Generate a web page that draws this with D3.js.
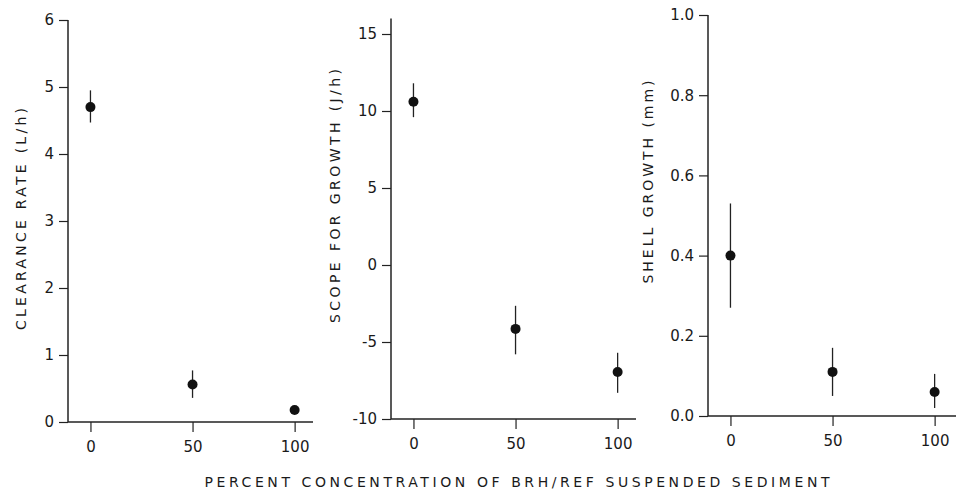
<!DOCTYPE html>
<html>
<head>
<meta charset="utf-8">
<script src="https://cdn.jsdelivr.net/npm/d3@7"></script>
<style>
  body { margin: 0; background: #fff; }
  text { font-family: 'DejaVu Sans', sans-serif; fill: #1a1a1a; }
</style>
</head>
<body>
<svg></svg>
<script>
// data

const concentrations = [0, 50, 100];

const clearanceRate = [4.70, 0.56, 0.18];
const clearanceLow = [4.47, 0.36, 0.16];
const clearanceHigh = [4.95, 0.77, 0.20];

const scopeForGrowth = [10.6, -4.15, -6.95];
const scopeLow = [9.6, -5.8, -8.3];
const scopeHigh = [11.8, -2.65, -5.7];

const shellGrowth = [0.40, 0.11, 0.06];
const shellLow = [0.27, 0.05, 0.02];
const shellHigh = [0.53, 0.17, 0.105];

const xTicks = [0, 50, 100];
const clearanceTicks = [0, 1, 2, 3, 4, 5, 6];
const scopeTicks = [-10, -5, 0, 5, 10, 15];
const shellTicks = [0, 0.2, 0.4, 0.6, 0.8, 1.0];

const xTitle = 'PERCENT CONCENTRATION OF BRH/REF SUSPENDED SEDIMENT';

// root svg

const width = 958, height = 496;

const svg = d3.select('svg')
  .attr('width', width)
  .attr('height', height)
  .style('background', '#fff');

// panels (layout in pixels)

const panels = [
  {
    title: 'CLEARANCE RATE (L/h)', titleX: 21, titleY: 219, titleLen: 222,
    values: clearanceRate, low: clearanceLow, high: clearanceHigh,
    yDomain: [0, 6], yTicks: clearanceTicks, yFormat: d => d,
    left: 68, right: 313, top: 20, bottom: 422
  },
  {
    title: 'SCOPE FOR GROWTH (J/h)', titleX: 335, titleY: 196, titleLen: 254,
    values: scopeForGrowth, low: scopeLow, high: scopeHigh,
    yDomain: [-10, 16], yTicks: scopeTicks, yFormat: d => d < 0 ? '-' + Math.abs(d) : d,
    left: 391, right: 636, top: 18.6, bottom: 419
  },
  {
    title: 'SHELL GROWTH (mm)', titleX: 648, titleY: 182, titleLen: 203,
    values: shellGrowth, low: shellLow, high: shellHigh,
    yDomain: [0, 1], yTicks: shellTicks, yFormat: d3.format('.1f'),
    left: 708, right: 956, top: 15, bottom: 416
  }
];

panels.forEach(p => {
  const g = svg.append('g');

  const xScale = d3.scaleLinear()
    .domain([-11, 109])
    .range([p.left, p.left + 245]);

  const yScale = d3.scaleLinear()
    .domain(p.yDomain)
    .range([p.bottom, p.top]);

  // y axis
  const yAxis = d3.axisLeft(yScale)
    .tickValues(p.yTicks)
    .tickFormat(p.yFormat)
    .tickSizeInner(9)
    .tickSizeOuter(0)
    .tickPadding(5);

  const yAxisG = g.append('g')
    .attr('transform', `translate(${p.left},0)`)
    .call(yAxis);

  yAxisG.select('.domain').remove();

  yAxisG.selectAll('.tick line')
    .attr('stroke', '#222')
    .attr('stroke-width', 1.2);

  yAxisG.selectAll('.tick text')
    .style('font-size', '15px')
    .attr('fill', '#1a1a1a');

  g.append('line')
    .attr('x1', p.left).attr('x2', p.left)
    .attr('y1', p.top).attr('y2', p.bottom)
    .attr('stroke', '#222')
    .attr('stroke-width', 1.5);

  // x axis
  const xAxis = d3.axisBottom(xScale)
    .tickValues(xTicks)
    .tickSizeInner(10)
    .tickSizeOuter(0)
    .tickPadding(9);

  const xAxisG = g.append('g')
    .attr('transform', `translate(0,${p.bottom})`)
    .call(xAxis);

  xAxisG.select('.domain').remove();

  xAxisG.selectAll('.tick line')
    .attr('stroke', '#222')
    .attr('stroke-width', 1.2);

  xAxisG.selectAll('.tick text')
    .style('font-size', '15px')
    .attr('fill', '#1a1a1a');

  g.append('line')
    .attr('x1', p.left).attr('x2', p.right)
    .attr('y1', p.bottom).attr('y2', p.bottom)
    .attr('stroke', '#222')
    .attr('stroke-width', 1.5);

  // y title
  g.append('text')
    .attr('transform', `translate(${p.titleX},${p.titleY}) rotate(-90)`)
    .attr('text-anchor', 'middle')
    .attr('dy', '0.35em')
    .attr('textLength', p.titleLen)
    .attr('lengthAdjust', 'spacing')
    .style('font-size', '14px')
    .text(p.title);

  // error bars
  g.selectAll('line.err')
    .data(concentrations)
    .enter()
    .append('line')
      .attr('class', 'err')
      .attr('x1', d => xScale(d))
      .attr('x2', d => xScale(d))
      .attr('y1', (d, i) => yScale(p.low[i]))
      .attr('y2', (d, i) => yScale(p.high[i]))
      .attr('stroke', '#222')
      .attr('stroke-width', 1.3);

  // points
  g.selectAll('circle')
    .data(concentrations)
    .enter()
    .append('circle')
      .attr('cx', d => xScale(d))
      .attr('cy', (d, i) => yScale(p.values[i]))
      .attr('r', 5)
      .attr('fill', '#111');
});

// shared x title

svg.append('text')
  .attr('x', 517)
  .attr('y', 487)
  .attr('text-anchor', 'middle')
  .attr('textLength', 625)
  .attr('lengthAdjust', 'spacing')
  .style('font-size', '14px')
  .text(xTitle);
</script>
</body>
</html>
